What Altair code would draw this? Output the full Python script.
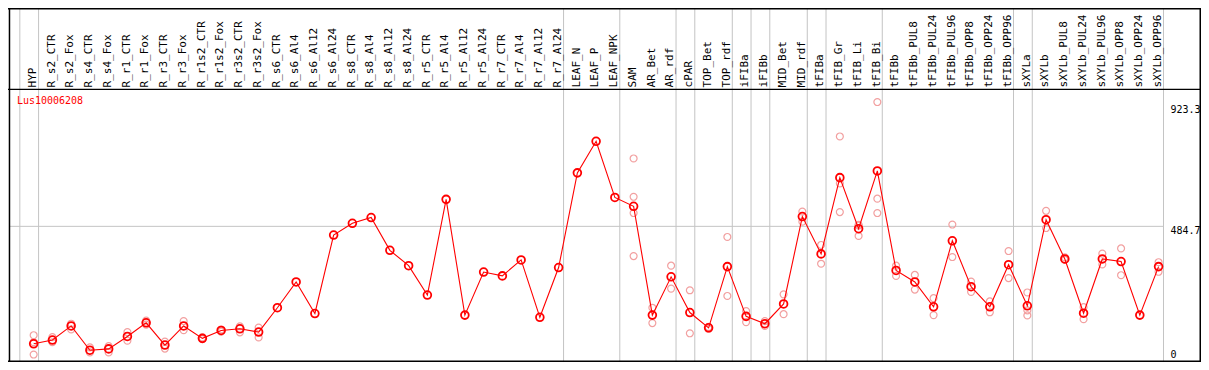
import altair as alt
import pandas as pd

# ---------------- data ----------------
categories = [
    "HYP", "R_s2_CTR", "R_s2_Fox", "R_s4_CTR", "R_s4_Fox", "R_r1_CTR", "R_r1_Fox",
    "R_r3_CTR", "R_r3_Fox", "R_r1s2_CTR", "R_r1s2_Fox", "R_r3s2_CTR", "R_r3s2_Fox",
    "R_s6_CTR", "R_s6_Al4", "R_s6_Al12", "R_s6_Al24", "R_s8_CTR", "R_s8_Al4",
    "R_s8_Al12", "R_s8_Al24", "R_r5_CTR", "R_r5_Al4", "R_r5_Al12", "R_r5_Al24",
    "R_r7_CTR", "R_r7_Al4", "R_r7_Al12", "R_r7_Al24", "LEAF_N", "LEAF_P", "LEAF_NPK",
    "SAM", "AR_Bet", "AR_rdf", "cPAR", "TOP_Bet", "TOP_rdf", "iFIBa", "iFIBb",
    "MID_Bet", "MID_rdf", "tFIBa", "tFIB_Gr", "tFIB_Li", "tFIB_Bi", "tFIBb",
    "tFIBb_PUL8", "tFIBb_PUL24", "tFIBb_PUL96", "tFIBb_OPP8", "tFIBb_OPP24",
    "tFIBb_OPP96", "sXYLa", "sXYLb", "sXYLb_PUL8", "sXYLb_PUL24", "sXYLb_PUL96",
    "sXYLb_OPP8", "sXYLb_OPP24", "sXYLb_OPP96",
]

means = [
    41.5, 55.9, 109.0, 17.3, 22.4, 69.3, 120.9, 36.8, 109.0, 62.1, 92.0, 98.2, 85.9,
    177.6, 275.0, 155.9, 451.9, 496.3, 518.0, 394.2, 336.4, 225.6, 586.5, 149.8, 312.2,
    297.8, 358.1, 141.5, 329.2, 686.5, 805.6, 593.8,
    560.2, 149.8, 294.2, 159.5, 101.8, 332.8, 145.1, 117.3, 192.0, 521.6,
    380.8, 668.5, 475.7, 693.7, 318.4, 275.0, 181.2, 430.3, 257.0, 181.2, 340.0,
    184.8, 509.7, 361.7, 157.0, 361.7, 351.9, 149.8, 332.8,
]

replicates = [
    [74.0, 48.0, 1.0], [66.8, 47.6], [117.3, 95.7], [28.2, 9.0], [33.2, 9.0],
    [85.9, 53.4], [129.2, 113.7], [49.8, 23.5], [127.1, 93.1], [65.7, 59.6],
    [95.7, 87.3], [107.6, 84.8], [102.9, 65.7],
    [], [], [], [], [], [], [], [], [], [], [], [], [], [], [], [], [], [], [],
    [740.7, 596.3, 534.9, 372.5], [177.6, 119.8], [336.4, 249.8], [243.6, 81.2],
    [105.4, 98.2], [444.7, 222.0], [165.3, 123.4], [127.1, 109.0], [228.1, 153.4],
    [540.7, 502.4], [414.4, 343.6], [823.7, 646.8, 538.5], [490.2, 487.3, 448.3],
    [953.6, 589.1, 534.9], [336.4, 297.8], [301.4, 246.2], [213.7, 149.8],
    [491.6, 368.9], [276.1, 237.5], [201.4, 160.6], [391.6, 289.5],
    [235.3, 167.8, 148.7], [543.2, 478.3], [367.4, 358.1], [179.8, 134.3],
    [381.9, 341.1], [401.4, 300.3], [], [349.4, 313.3],
]

group_starts = ["HYP", "R_s2_CTR", "LEAF_N", "SAM", "cPAR", "TOP_Bet", "iFIBa",
                "iFIBb", "MID_Bet", "tFIBa", "tFIB_Gr", "tFIBb", "sXYLa", "sXYLb"]
group_end = ["sXYLb_OPP96"]

axis_values = [0, 923.3]
axis_labels = ["0", "923.3"]
grid_values = [484.7]
grid_labels = ["484.7"]
title_text = "Lus10006208"

# ---------------- layout helpers ----------------
W, H = 1193, 354
SX = W / 1209
SY = H / 370


def X(v):
    return v * SX


def Y(v):
    return v * SY


MONO = "DejaVu Sans Mono"

xs = alt.Scale(domain=categories, range=[X(12), X(1171)], paddingInner=0, paddingOuter=0)
ys = alt.Scale(domain=[0, 923.3], range=[Y(362.5), Y(106.7)], nice=False, zero=False)

df_mean = pd.DataFrame({"cat": categories, "v": means, "idx": list(range(len(categories)))})
rep_rows = []
for c, reps in zip(categories, replicates):
    for r in reps:
        rep_rows.append({"cat": c, "v": r})
df_rep = pd.DataFrame(rep_rows)
df_start = pd.DataFrame({"cat": group_starts})
df_end = pd.DataFrame({"cat": group_end})
df_cat = pd.DataFrame({"cat": categories})
df_axis = pd.DataFrame({"v": axis_values, "lab": axis_labels})
df_grid = pd.DataFrame({"v": grid_values, "lab": grid_labels})
dummy = pd.DataFrame({"a": [0]})

GRAY = "#c4c4c4"
PT_POS = 14 / 19

vlines_start = alt.Chart(df_start).mark_rule(color=GRAY, strokeWidth=1).encode(
    x=alt.X("cat:N", scale=xs, axis=None, bandPosition=0),
    y=alt.value(0), y2=alt.value(H),
)
vlines_end = alt.Chart(df_end).mark_rule(color=GRAY, strokeWidth=1).encode(
    x=alt.X("cat:N", scale=xs, axis=None, bandPosition=1),
    y=alt.value(0), y2=alt.value(H),
)
grid = alt.Chart(df_grid).mark_rule(color=GRAY, strokeWidth=1).encode(
    y=alt.Y("v:Q", scale=ys, axis=None),
    x=alt.value(X(1)), x2=alt.value(X(1171)),
)

rep_pts = alt.Chart(df_rep).mark_point(
    shape="circle", filled=False, color="#f2a0a0", size=48, strokeWidth=1.2, opacity=1
).encode(
    x=alt.X("cat:N", scale=xs, axis=None, bandPosition=PT_POS),
    y=alt.Y("v:Q", scale=ys, axis=None),
)

mean_line = alt.Chart(df_mean).mark_line(color="#ff0000", strokeWidth=1.1).encode(
    x=alt.X("cat:N", scale=xs, axis=None, bandPosition=PT_POS),
    y=alt.Y("v:Q", scale=ys, axis=None),
    order="idx:Q",
)
mean_pts = alt.Chart(df_mean).mark_point(
    shape="circle", filled=False, color="#ff0000", size=60, strokeWidth=1.8, opacity=1
).encode(
    x=alt.X("cat:N", scale=xs, axis=None, bandPosition=PT_POS),
    y=alt.Y("v:Q", scale=ys, axis=None),
)

header = alt.Chart(df_cat).mark_text(
    angle=270, align="left", baseline="middle", font=MONO, fontSize=11, color="black"
).encode(
    x=alt.X("cat:N", scale=xs, axis=None, bandPosition=13.3 / 19),
    y=alt.value(Y(83)),
    text="cat:N",
)

title = alt.Chart(dummy).mark_text(
    align="left", baseline="middle", font=MONO, fontSize=10, color="#ff0000", text=title_text
).encode(x=alt.value(X(9)), y=alt.value(Y(97)))

axis_txt = alt.Chart(df_axis).mark_text(
    align="left", baseline="middle", font=MONO, fontSize=10, color="black"
).encode(
    y=alt.Y("v:Q", scale=ys, axis=None),
    x=alt.value(X(1178)),
    text="lab:N",
)
grid_txt = alt.Chart(df_grid).mark_text(
    align="left", baseline="top", font=MONO, fontSize=10, color="black"
).encode(
    y=alt.Y("v:Q", scale=ys, axis=None),
    x=alt.value(X(1178)),
    text="lab:N",
)

header_sep = alt.Chart(dummy).mark_rule(color="black", strokeWidth=1.2).encode(
    x=alt.value(0), x2=alt.value(W), y=alt.value(Y(85))
)
b_top = alt.Chart(dummy).mark_rule(color="black", strokeWidth=1.5).encode(
    x=alt.value(0), x2=alt.value(W), y=alt.value(0.75)
)
b_bot = alt.Chart(dummy).mark_rule(color="black", strokeWidth=1.5).encode(
    x=alt.value(0), x2=alt.value(W), y=alt.value(H - 0.75)
)
b_left = alt.Chart(dummy).mark_rule(color="black", strokeWidth=1.5).encode(
    y=alt.value(0), y2=alt.value(H), x=alt.value(X(1.5))
)
b_right = alt.Chart(dummy).mark_rule(color="black", strokeWidth=1.5).encode(
    y=alt.value(0), y2=alt.value(H), x=alt.value(W - 0.75)
)

chart = alt.layer(
    vlines_start, vlines_end, grid, rep_pts, mean_line, mean_pts,
    header, title, axis_txt, grid_txt, header_sep, b_top, b_bot, b_left, b_right,
).properties(
    width=W, height=H, autosize="none", padding=0, background="white"
).configure_view(stroke=None)

chart.save("out.html", embed_options={"renderer": "svg", "actions": False})
